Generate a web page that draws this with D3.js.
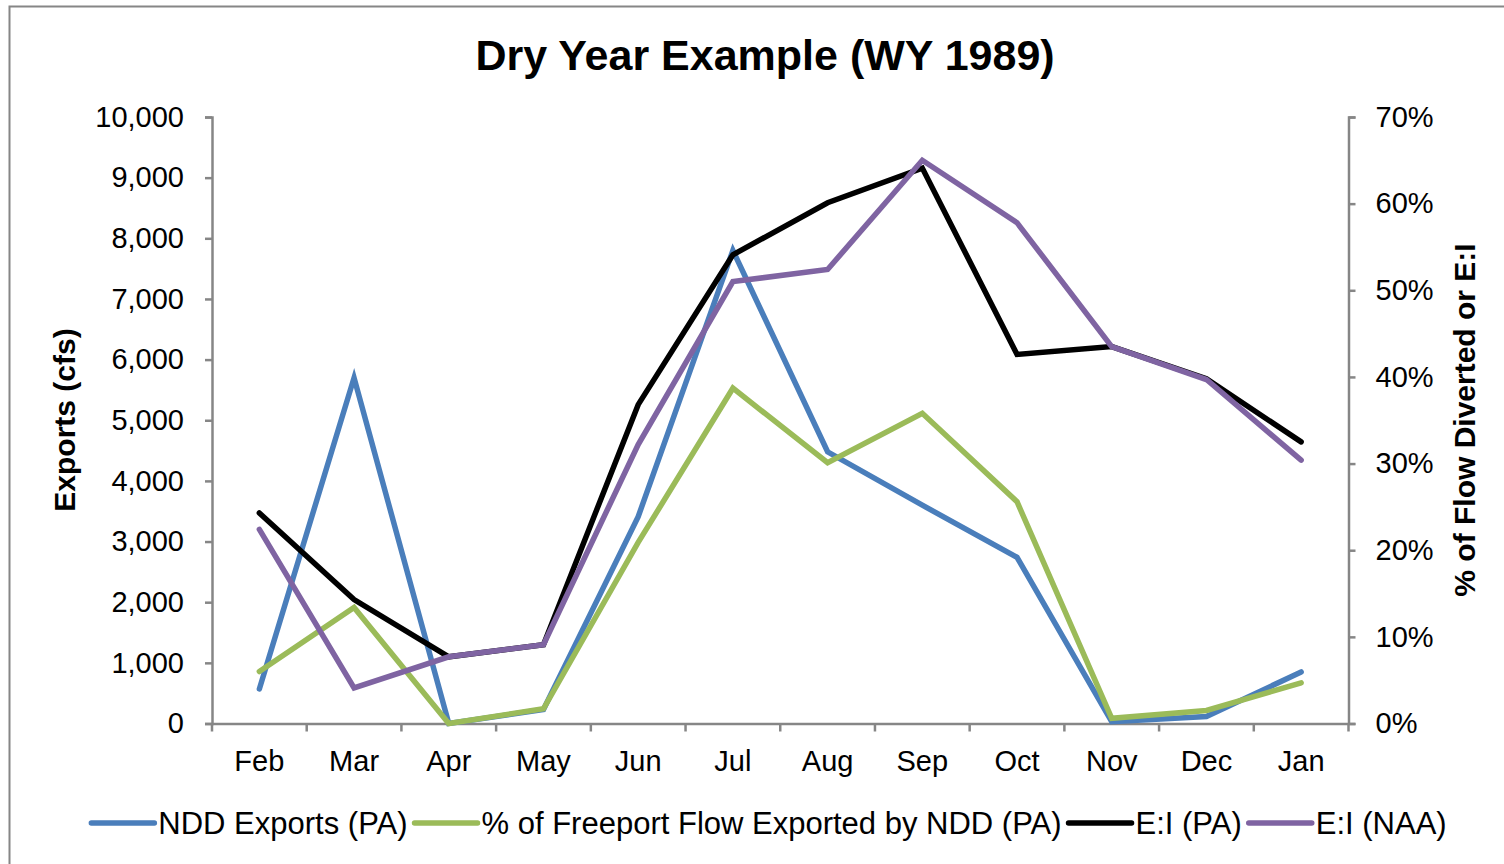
<!DOCTYPE html>
<html><head><meta charset="utf-8">
<script src="https://cdn.jsdelivr.net/npm/d3@7"></script>
<style>html,body{margin:0;padding:0;background:#fff;}svg{display:block;font-family:"Liberation Sans",Arial,sans-serif;}</style>
</head><body>
<svg id="c" width="1504" height="864"></svg>
<script>
const months = ["Feb","Mar","Apr","May","Jun","Jul","Aug","Sep","Oct","Nov","Dec","Jan"];
const nddExports = [570, 5700, 0, 230, 3410, 7800, 4480, 3600, 2740, 30, 115, 850];
const pctFreeport = [6.0, 13.4, 0.0, 1.7, 20.9, 38.7, 30.1, 35.8, 25.6, 0.6, 1.5, 4.7];
const eiPA = [24.3, 14.3, 7.7, 9.1, 36.8, 54.1, 60.1, 64.1, 42.6, 43.5, 39.8, 32.5];
const eiNAA = [22.4, 4.1, 7.7, 9.1, 32.2, 51.0, 52.4, 65.0, 57.8, 43.5, 39.7, 30.4];
const leftTicks = [0,1000,2000,3000,4000,5000,6000,7000,8000,9000,10000];
const rightTicks = [0,10,20,30,40,50,60,70];
const seriesNames = ["NDD Exports (PA)","% of Freeport Flow Exported by NDD (PA)","E:I (PA)","E:I (NAA)"];
const colors = ["#4A7EBB","#9BBB59","#000000","#7F64A2"];

const svg = d3.select("#c");
const L = 212, R = 1348.5, T = 117, B = 723.5;
const axisColor = "#868686";

svg.append("rect").attr("x",9.5).attr("y",6.5).attr("width",1500).attr("height",860)
  .attr("fill","none").attr("stroke",axisColor).attr("stroke-width",2);

svg.append("text").attr("x",765).attr("y",70).attr("text-anchor","middle")
  .attr("font-size",43).attr("font-weight","bold").attr("fill","#000").text("Dry Year Example (WY 1989)");

const x = d3.scaleBand().domain(months).range([L,R]).padding(0);
const yL = d3.scaleLinear().domain([0,10000]).range([B,T]);
const yR = d3.scaleLinear().domain([0,70]).range([B,T]);

const gL = svg.append("g").attr("transform",`translate(${L},0)`)
  .call(d3.axisLeft(yL).tickValues(leftTicks).tickSize(7).tickPadding(21).tickFormat(d3.format(",")));
const gR = svg.append("g").attr("transform",`translate(${R},0)`)
  .call(d3.axisRight(yR).tickValues(rightTicks).tickSize(7).tickPadding(20).tickFormat(d=>d+"%"));
const gB = svg.append("g").attr("transform",`translate(0,${B})`)
  .call(d3.axisBottom(x).tickSize(0).tickPadding(27));
const bounds = months.map(m=>x(m)).concat([R]);
svg.append("g").selectAll("line").data(bounds).join("line")
  .attr("x1",d=>d).attr("x2",d=>d).attr("y1",B).attr("y2",B+8)
  .attr("stroke",axisColor).attr("stroke-width",2.5);

[gL,gR,gB].forEach(g=>{
  g.selectAll(".domain").attr("stroke",axisColor).attr("stroke-width",2.5);
  g.selectAll(".tick line").attr("stroke",axisColor).attr("stroke-width",2.5);
  g.selectAll("text").attr("font-size",29).attr("fill","#000").attr("font-family","Liberation Sans, Arial, sans-serif");
});
gB.selectAll("text").attr("dy","0.71em");

svg.append("text").attr("transform","translate(75,420) rotate(-90)").attr("text-anchor","middle")
  .attr("font-size",30).attr("font-weight","bold").text("Exports (cfs)");
svg.append("text").attr("transform","translate(1475,420) rotate(-90)").attr("text-anchor","middle")
  .attr("font-size",30).attr("font-weight","bold").text("% of Flow Diverted or E:I");

const cx = m => x(m) + x.bandwidth()/2;
const data = [
  {vals:nddExports, y:yL},
  {vals:pctFreeport, y:yR},
  {vals:eiPA, y:yR},
  {vals:eiNAA, y:yR}
];
data.forEach((s,i)=>{
  const line = d3.line().x((d,j)=>cx(months[j])).y(d=>s.y(d));
  svg.append("path").datum(s.vals).attr("d",line).attr("fill","none")
    .attr("stroke",colors[i]).attr("stroke-width",5.5).attr("stroke-linejoin","miter").attr("stroke-linecap","round");
});

const lg = svg.append("g");
let cur = 0;
seriesNames.forEach((n,i)=>{
  const g = lg.append("g");
  g.append("line").attr("x1",cur).attr("x2",cur+63).attr("y1",0).attr("y2",0)
    .attr("stroke",colors[i]).attr("stroke-width",5.5).attr("stroke-linecap","round");
  const t = g.append("text").attr("x",cur+67).attr("y",0).attr("dy","0.35em").attr("font-size",31).text(n);
  cur += 67 + t.node().getComputedTextLength() + 7;
});
const total = cur - 7;
lg.attr("transform",`translate(${769 - total/2},823)`);
</script>
</body></html>
